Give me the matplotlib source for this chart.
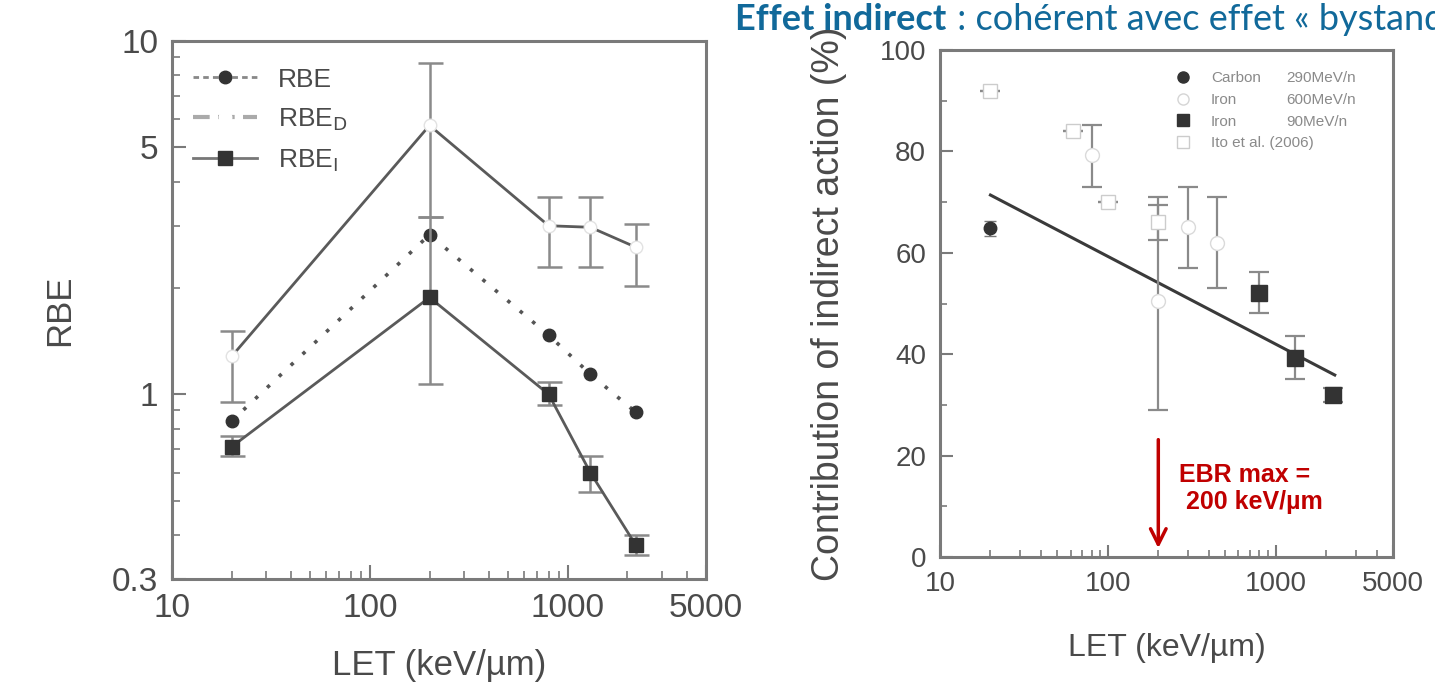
import matplotlib
matplotlib.use("Agg")
import matplotlib.pyplot as plt
from matplotlib.lines import Line2D
from matplotlib.ticker import FixedLocator, NullFormatter, LogLocator

plt.rcParams['font.family'] = ['Liberation Sans', 'DejaVu Sans']

# ---- left panel data (RBE vs LET) ----
let_left = [20, 200, 800, 1300, 2200]
rbe_d = [1.28, 5.77, 3.0, 2.97, 2.61]
rbe_d_lo = [0.95, 3.18, 2.30, 2.30, 2.02]
rbe_d_hi = [1.51, 8.69, 3.62, 3.62, 3.04]
rbe = [0.84, 2.83, 1.47, 1.14, 0.89]
rbe_i = [0.71, 1.88, 1.0, 0.60, 0.375]
rbe_i_lo = [0.67, 1.07, 0.93, 0.53, 0.35]
rbe_i_hi = [0.76, 3.18, 1.08, 0.67, 0.40]

# ---- right panel data (contribution of indirect action) ----
carbon_x = [20]
carbon_y = [64.8]
carbon_err = [1.5]
iron600_x = [80, 200, 300, 450]
iron600_y = [79.3, 50.5, 65.0, 62.0]
iron600_lo = [73.0, 29.0, 57.0, 53.0]
iron600_hi = [85.2, 71.0, 73.0, 71.0]
iron90_x = [800, 1300, 2200]
iron90_y = [52.0, 39.2, 31.9]
iron90_lo = [48.1, 35.2, 30.5]
iron90_hi = [56.3, 43.5, 33.3]
ito_x = [20, 62, 100, 200]
ito_y = [92.0, 84.0, 70.0, 66.0]
ito_err = [0, 0, 0, 3.5]
fit_x = [20, 2250]
fit_y = [71.4, 35.9]

txt = '#4a4a4a'
spine = '#7a7a7a'

fig = plt.figure(figsize=(14.35, 6.93), dpi=100)

# ================= left =================
ax1 = fig.add_axes([0.1199, 0.1645, 0.3722, 0.7763])
ax1.set_xscale('log')
ax1.set_yscale('log')
ax1.set_xlim(10, 5000)
ax1.set_ylim(0.3, 10)

ax1.errorbar(let_left, rbe_d,
             yerr=[[a - b for a, b in zip(rbe_d, rbe_d_lo)], [b - a for a, b in zip(rbe_d, rbe_d_hi)]],
             fmt='-', color='#5a5a5a', lw=2, ecolor='#8a8a8a', elinewidth=1.8,
             capsize=9, capthick=1.8, marker='o', ms=9, mfc='white', mec='#e2e2e2', zorder=2)
ax1.plot(let_left, rbe, linestyle=(0, (1, 3.5)), color='#555555', lw=2.6,
         marker='o', ms=9, mfc='#333333', mec='#333333', zorder=3)
ax1.errorbar(let_left, rbe_i,
             yerr=[[a - b for a, b in zip(rbe_i, rbe_i_lo)], [b - a for a, b in zip(rbe_i, rbe_i_hi)]],
             fmt='-', color='#5a5a5a', lw=2, ecolor='#8a8a8a', elinewidth=1.8,
             capsize=9, capthick=1.8, marker='s', ms=10, mfc='#333333', mec='#333333', zorder=3)

ax1.yaxis.set_major_locator(FixedLocator([0.3, 1, 5, 10]))
ax1.set_yticklabels(['0.3', '1', '5', '10'])
ax1.yaxis.set_minor_locator(LogLocator(base=10, subs=range(2, 10)))
ax1.yaxis.set_minor_formatter(NullFormatter())
ax1.xaxis.set_major_locator(FixedLocator([10, 100, 1000, 5000]))
ax1.set_xticklabels(['10', '100', '1000', '5000'])
ax1.xaxis.set_minor_locator(LogLocator(base=10, subs=range(2, 10)))
ax1.xaxis.set_minor_formatter(NullFormatter())
ax1.tick_params(which='both', direction='in', color=spine, labelcolor=txt, labelsize=24, pad=10)
ax1.tick_params(which='major', length=10, width=1.5)
ax1.tick_params(which='minor', length=6, width=1.2)
for s in ax1.spines.values():
    s.set_color(spine)
    s.set_linewidth(2.2)
ax1.set_xlabel('LET (keV/\u00b5m)', fontsize=25, color=txt, labelpad=18)
ax1.set_ylabel('RBE', fontsize=25, color=txt, labelpad=26)

h1 = [Line2D([], [], linestyle=(0, (2, 1.5)), color='#888888', lw=2, marker='o', ms=9, mfc='#333333', mec='#333333'),
      Line2D([], [], linestyle=(0, (4, 2)), color='#aaaaaa', lw=3, marker='o', ms=9, mfc='white', mec='white'),
      Line2D([], [], linestyle='-', color='#777777', lw=2, marker='s', ms=10, mfc='#333333', mec='#333333')]
ax1.legend(h1, ['RBE', r'RBE$_{\mathrm{D}}$', r'RBE$_{\mathrm{I}}$'], loc='upper left', frameon=False,
           fontsize=19, labelcolor=txt, handlelength=2.4, labelspacing=0.55, borderaxespad=0.4,
           bbox_to_anchor=(0.0, 0.99))

# ================= right =================
ax2 = fig.add_axes([0.655, 0.1962, 0.3157, 0.7316])
ax2.set_xscale('log')
ax2.set_xlim(10, 5000)
ax2.set_ylim(0, 100)

ax2.plot(fit_x, fit_y, color='#3a3a3a', lw=2.2, zorder=2)
ax2.errorbar(iron600_x, iron600_y,
             yerr=[[a - b for a, b in zip(iron600_y, iron600_lo)], [b - a for a, b in zip(iron600_y, iron600_hi)]],
             fmt='o', ms=10, mfc='white', mec='#dadada', ecolor='#8a8a8a', elinewidth=1.6,
             capsize=7, capthick=1.6, zorder=3)
ax2.errorbar(ito_x, ito_y, yerr=ito_err, fmt='s', ms=10, mfc='white', mec='#cccccc',
             ecolor='#8a8a8a', elinewidth=1.6, capsize=7, capthick=1.6, zorder=3)
ax2.errorbar(carbon_x, carbon_y, yerr=carbon_err, fmt='o', ms=9, mfc='#333333', mec='#333333',
             ecolor='#777777', capsize=4, zorder=4)
ax2.errorbar(iron90_x, iron90_y,
             yerr=[[a - b for a, b in zip(iron90_y, iron90_lo)], [b - a for a, b in zip(iron90_y, iron90_hi)]],
             fmt='s', ms=11, mfc='#333333', mec='#333333', ecolor='#8a8a8a', elinewidth=1.6,
             capsize=7, capthick=1.6, zorder=4)

ax2.set_yticks([0, 20, 40, 60, 80, 100])
ax2.yaxis.set_minor_locator(FixedLocator([10, 30, 50, 70, 90]))
ax2.xaxis.set_major_locator(FixedLocator([10, 100, 1000, 5000]))
ax2.set_xticklabels(['10', '100', '1000', '5000'])
ax2.xaxis.set_minor_locator(LogLocator(base=10, subs=range(2, 10)))
ax2.xaxis.set_minor_formatter(NullFormatter())
ax2.tick_params(which='both', direction='in', color=spine, labelcolor=txt, labelsize=20, pad=10)
ax2.tick_params(which='major', length=9, width=1.5)
ax2.tick_params(which='minor', length=5, width=1.2)
for s in ax2.spines.values():
    s.set_color(spine)
    s.set_linewidth(2.2)
ax2.set_xlabel('LET (keV/\u00b5m)', fontsize=23, color=txt, labelpad=26)
ax2.set_ylabel('Contribution of indirect action (%)', fontsize=27, color=txt)
ax2.yaxis.set_label_coords(-0.205, 0.5)

h2 = [Line2D([], [], ls='none', marker='o', ms=8, mfc='#333333', mec='#333333'),
      Line2D([], [], ls='none', marker='o', ms=8, mfc='white', mec='#d5d5d5'),
      Line2D([], [], ls='none', marker='s', ms=9, mfc='#333333', mec='#333333'),
      Line2D([], [], ls='none', marker='s', ms=9, mfc='white', mec='#cccccc')]
leg2 = ax2.legend(h2, ['Carbon', 'Iron', 'Iron', 'Ito et al. (2006)'], loc='upper left',
                  bbox_to_anchor=(0.49, 0.985), frameon=False, fontsize=11, labelcolor='#8a8a8a',
                  handlelength=1.0, handletextpad=1.3, labelspacing=0.5)
ax2.add_artist(leg2)
blank = [Line2D([], [], ls='none') for _ in range(3)]
ax2.legend(blank, ['290MeV/n', '600MeV/n', '90MeV/n'], loc='upper left',
           bbox_to_anchor=(0.735, 0.985), frameon=False, fontsize=11, labelcolor='#8a8a8a',
           handlelength=0, handletextpad=0, labelspacing=0.5)

# red arrow + note
ax2.annotate('', xy=(200, 1.2), xytext=(200, 23.7),
             arrowprops=dict(arrowstyle='->', color='#c00000', lw=2.5, mutation_scale=28))
ax2.text(265, 13.5, 'EBR max =\n 200 keV/\u00b5m', color='#c00000', fontsize=18,
         fontweight='bold', ha='left', va='center', linespacing=1.2)

# cropped slide title
t1 = fig.text(735 / 1435, 1 - 30 / 693, 'Effet indirect', color='#11699a', fontsize=26,
              fontweight='bold', family=['Lato', 'DejaVu Sans'], va='baseline', ha='left')
fig.canvas.draw()
bb = t1.get_window_extent()
fig.text((bb.x1 + 2) / 1435, 1 - 30 / 693, ' : coh\u00e9rent avec effet \u00ab bystander \u00bb',
         color='#11699a', fontsize=26, family=['Lato', 'DejaVu Sans'], va='baseline', ha='left')

fig.savefig('out.png', dpi=100, facecolor='white')
